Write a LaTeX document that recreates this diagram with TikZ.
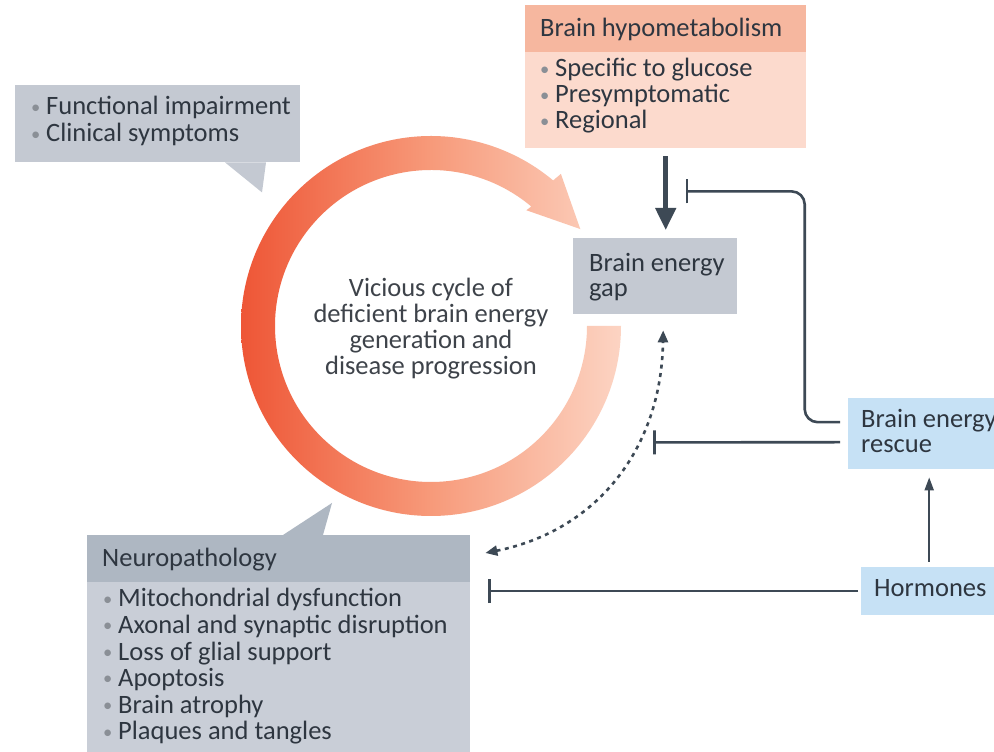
\documentclass[tikz,border=0pt]{standalone}
\usepackage{fontspec}
\setmainfont{Carlito}
\usepackage{graphicx}
\usetikzlibrary{arrows.meta,calc}

\definecolor{ink}{HTML}{2E3640}
\definecolor{softink}{HTML}{3E434A}
\definecolor{bulletc}{HTML}{8A8F96}
\definecolor{hypohead}{HTML}{F6B79F}
\definecolor{hypobody}{HTML}{FCDACD}
\definecolor{greybox}{HTML}{C4C9D2}
\definecolor{neurohead}{HTML}{AEB7C2}
\definecolor{neurobody}{HTML}{C9CED7}
\definecolor{bluebox}{HTML}{C6E1F5}
\definecolor{linec}{HTML}{3D4955}
\definecolor{ringL}{HTML}{EE5636}
\definecolor{ringM}{HTML}{F79A7A}
\definecolor{ringR}{HTML}{FCD4C3}

\newcommand{\bul}{\makebox[15pt][l]{\color{bulletc}\raisebox{0.15ex}{\scalebox{0.7}{•}}}}

\tikzset{
  boxnode/.style={rectangle, inner sep=0pt, anchor=north west, draw=none},
  txt/.style={anchor=base west, inner sep=0pt, text=ink, font=\fontsize{26.5}{28}\selectfont},
  ctxt/.style={anchor=base, inner sep=0pt, text=softink, font=\fontsize{26.5}{28}\selectfont},
  inhib/.style={draw=linec, line width=2.6pt, -{Bar[width=24pt, line width=2.6pt]}},
  thickarrow/.style={draw=linec, line width=4.5pt, -{Triangle[width=20pt, length=22pt]}},
  thinarrow/.style={draw=linec, line width=2pt, -{Triangle[width=9pt, length=13pt]}},
  dotarrow/.style={draw=linec, line width=2.6pt, dash pattern=on 4pt off 4.5pt,
    {Triangle[width=10pt, length=12pt]}-{Triangle[width=10pt, length=12pt]}}
}

\begin{document}
\begin{tikzpicture}[x=1pt, y=1pt]
\clip (0,0) rectangle (994,752);
\fill[white] (0,0) rectangle (994,752);

% ---- cycle ring with arrow head ----
\coordinate (C) at (431,426);
\shade[left color=ringL, right color=ringR, middle color=ringM]
  ($(C)+(0:190)$) arc[start angle=0, end angle=-310, radius=190]
  -- ($(C)+(49.5:200)$) -- ($(C)+(33:178)$) -- ($(C)+(50.5:150)$)
  -- ($(C)+(50:156)$) arc[start angle=-310, end angle=0, radius=156] -- cycle;

\node[ctxt] (cyc1) at (431,455) {Vicious cycle of};
\node[ctxt] (cyc2) at (431,429) {deficient brain energy};
\node[ctxt] (cyc3) at (431,403) {generation and};
\node[ctxt] (cyc4) at (431,377) {disease progression};

% ---- brain hypometabolism ----
\node[boxnode, fill=hypohead, minimum width=281pt, minimum height=47pt] (hypohead) at (525,747) {};
\node[boxnode, fill=hypobody, minimum width=281pt, minimum height=96pt] (hypo) at (525,700) {};
\node[txt] (hypotitle) at (540,715) {Brain hypometabolism};
\foreach \t [count=\i] in {Specific to glucose, Presymptomatic, Regional}
  \node[txt] (hypo-\i) at (540,701-26*\i) {\bul\t};

% ---- functional impairment callout ----
\node[boxnode, fill=greybox, minimum width=285pt, minimum height=77pt] (func) at (15,667) {};
\fill[greybox] ($(func.south west)+(210,0)$) -- ($(func.south west)+(251,0)$)
  -- ($(func.south west)+(247,-30)$) -- cycle;
\node[txt] (func-1) at (31,637) {\bul Functional impairment};
\node[txt] (func-2) at (31,610) {\bul Clinical symptoms};

% ---- brain energy gap ----
\node[boxnode, fill=greybox, minimum width=164pt, minimum height=76pt] (gap) at (573,514) {};
\node[txt] (gap-1) at (589,480) {Brain energy};
\node[txt] (gap-2) at (589,455) {gap};

% ---- brain energy rescue ----
\node[boxnode, fill=bluebox, minimum width=170pt, minimum height=71pt] (rescue) at (848,354) {};
\node[txt] (rescue-1) at (861,324) {Brain energy};
\node[txt] (rescue-2) at (861,299) {rescue};

% ---- hormones ----
\node[boxnode, fill=bluebox, minimum width=136pt, minimum height=48pt] (horm) at (861,185) {};
\node[txt] (horm-1) at (874,155) {Hormones};

% ---- neuropathology callout ----
\node[boxnode, fill=neurohead, minimum width=383pt, minimum height=47pt] (neurohead) at (87,217) {};
\node[boxnode, fill=neurobody, minimum width=383pt, minimum height=180pt] (neuro) at (87,170) {};
\fill[neurohead] ($(neurohead.north west)+(196,0)$) -- ($(neurohead.north west)+(236,0)$)
  -- ($(neurohead.north west)+(245,32)$) -- cycle;
\node[txt] (neurotitle) at (102,185) {Neuropathology};
\foreach \t [count=\i] in {Mitochondrial dysfunction, Axonal and synaptic disruption,
    Loss of glial support, Apoptosis, Brain atrophy, Plaques and tangles}
  \node[txt] (neuro-\i) at (103,171.6-26.6*\i) {\bul\t};

% ---- connectors ----
\draw[thickarrow, shorten <=8pt, shorten >=8pt] (hypo.south) -- (hypo.south |- gap.north);

\coordinate (barA) at ($(hypo.south)+(20,-43)$);
\draw[inhib, rounded corners=13pt]
  ([xshift=-8pt, yshift=11.5pt]rescue.west) -| ($(barA)+(119,0)$) -- (barA);

\coordinate (barB) at ($(gap.south)+(-2,-128)$);
\draw[inhib] ([xshift=-8pt, yshift=-8.5pt]rescue.west) -- (barB);

\draw[thinarrow, shorten <=5pt, shorten >=8pt] (horm.north) -- (horm.north |- rescue.south);

\coordinate (barC) at ($(neuro.east |- horm.west)+(18,0)$);
\draw[inhib] ([xshift=-3pt]horm.west) -- (barC);

\coordinate (dotS) at ($(neurohead.north east)+(15,-18)$);
\coordinate (dotE) at ($(gap.south)+(8,-16)$);
\draw[dotarrow] (dotS) .. controls ($(dotS)+(110,22)$) and ($(dotE)+(-2,-120)$) .. (dotE);

\end{tikzpicture}
\end{document}
